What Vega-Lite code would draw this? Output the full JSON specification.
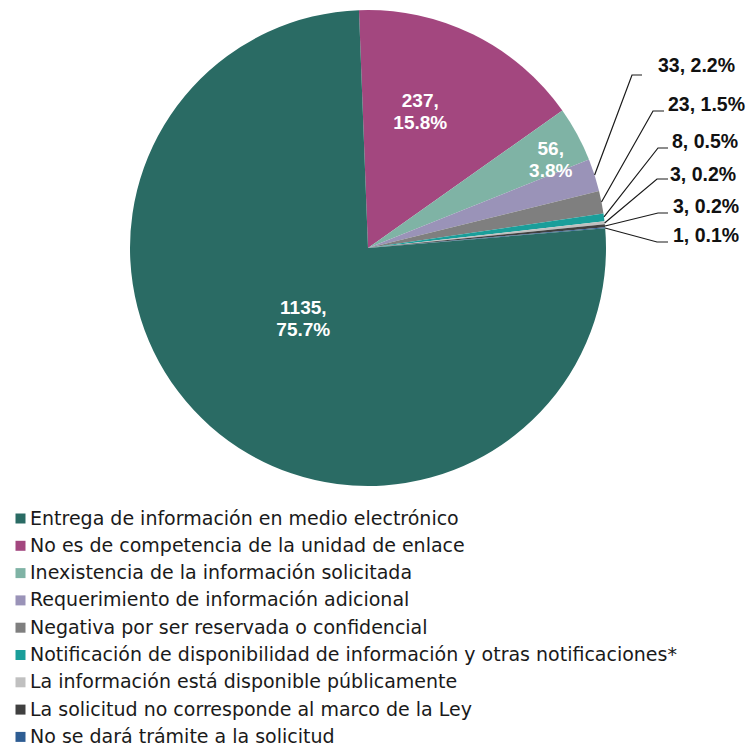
{
  "$schema": "https://vega.github.io/schema/vega-lite/v6.json",
  "width": 749,
  "height": 747,
  "autosize": {"type": "none"},
  "padding": 0,
  "background": "white",
  "config": {"view": {"stroke": null}, "font": "Liberation Sans"},
  "datasets": {
    "slices": [
      {"cat": "No es de competencia de la unidad de enlace", "n": 237, "ord": 1, "lbl": "237,\n15.8%"},
      {"cat": "Inexistencia de la información solicitada", "n": 56, "ord": 2, "lbl": "56,\n3.8%"},
      {"cat": "Requerimiento de información adicional", "n": 33, "ord": 3, "lbl": "33, 2.2%"},
      {"cat": "Negativa por ser reservada o confidencial", "n": 23, "ord": 4, "lbl": "23, 1.5%"},
      {"cat": "Notificación de disponibilidad de información y otras notificaciones*", "n": 8, "ord": 5, "lbl": "8, 0.5%"},
      {"cat": "La información está disponible públicamente", "n": 3, "ord": 6, "lbl": "3, 0.2%"},
      {"cat": "La solicitud no corresponde al marco de la Ley", "n": 3, "ord": 7, "lbl": "3, 0.2%"},
      {"cat": "No se dará trámite a la solicitud", "n": 1, "ord": 8, "lbl": "1, 0.1%"},
      {"cat": "Entrega de información en medio electrónico", "n": 1135, "ord": 9, "lbl": "1135,\n75.7%"}
    ],
    "callouts": [
      {"lbl": "33, 2.2%", "x": 1.2185, "y": 0.7626},
      {"lbl": "23, 1.5%", "x": 1.2605, "y": 0.6008},
      {"lbl": "8, 0.5%", "x": 1.2773, "y": 0.4454},
      {"lbl": "3, 0.2%", "x": 1.2689, "y": 0.3088},
      {"lbl": "3, 0.2%", "x": 1.2815, "y": 0.1723},
      {"lbl": "1, 0.1%", "x": 1.2815, "y": 0.0525}
    ],
    "leaders": [
      {"id": "a", "pt": 1, "x": 0.9521, "y": 0.3067},
      {"id": "a", "pt": 2, "x": 1.1092, "y": 0.7269},
      {"id": "a", "pt": 3, "x": 1.1513, "y": 0.7269},
      {"id": "b", "pt": 1, "x": 0.9811, "y": 0.1933},
      {"id": "b", "pt": 2, "x": 1.1975, "y": 0.5756},
      {"id": "b", "pt": 3, "x": 1.2437, "y": 0.5756},
      {"id": "c", "pt": 1, "x": 0.9916, "y": 0.1303},
      {"id": "c", "pt": 2, "x": 1.2185, "y": 0.4202},
      {"id": "c", "pt": 3, "x": 1.2605, "y": 0.4202},
      {"id": "d", "pt": 1, "x": 0.9941, "y": 0.1050},
      {"id": "d", "pt": 2, "x": 1.2143, "y": 0.2899},
      {"id": "d", "pt": 3, "x": 1.2605, "y": 0.2899},
      {"id": "e", "pt": 1, "x": 0.9958, "y": 0.0924},
      {"id": "e", "pt": 2, "x": 1.2185, "y": 0.1471},
      {"id": "e", "pt": 3, "x": 1.2605, "y": 0.1471},
      {"id": "f", "pt": 1, "x": 0.9958, "y": 0.0840},
      {"id": "f", "pt": 2, "x": 1.2143, "y": 0.0252},
      {"id": "f", "pt": 3, "x": 1.2605, "y": 0.0252}
    ]
  },
  "resolve": {"scale": {"x": "shared", "y": "shared", "theta": "shared"}},
  "layer": [
    {
      "data": {"name": "slices"},
      "mark": {"type": "arc", "outerRadius": 238},
      "encoding": {
        "x": {"datum": 0, "type": "quantitative", "scale": {"domain": [-1.5462, 1.6008], "nice": false, "zero": false}, "axis": null},
        "y": {"datum": 0, "type": "quantitative", "scale": {"domain": [-2.0966, 1.0420], "nice": false, "zero": false}, "axis": null},
        "theta": {"field": "n", "type": "quantitative", "stack": true, "scale": {"range": [-0.038, 6.2452]}},
        "order": {"field": "ord", "type": "quantitative"},
        "color": {
          "field": "cat", "type": "nominal",
          "scale": {
            "domain": [
              "Entrega de información en medio electrónico",
              "No es de competencia de la unidad de enlace",
              "Inexistencia de la información solicitada",
              "Requerimiento de información adicional",
              "Negativa por ser reservada o confidencial",
              "Notificación de disponibilidad de información y otras notificaciones*",
              "La información está disponible públicamente",
              "La solicitud no corresponde al marco de la Ley",
              "No se dará trámite a la solicitud"
            ],
            "range": ["#2a6b64", "#a3477f", "#7fb3a5", "#9a93b8", "#7f7f7f", "#1a9e9a", "#c0c0c0", "#404040", "#2e5d93"]
          },
          "legend": {
            "orient": "none", "legendX": 11, "legendY": 509, "title": null,
            "symbolType": "square", "symbolSize": 100, "symbolStrokeWidth": 0,
            "labelFontSize": 19, "labelFont": "DejaVu Sans", "labelColor": "#1a1a1a",
            "labelOffset": 0, "rowPadding": 7.3, "padding": 0, "labelLimit": 800
          }
        }
      }
    },
    {
      "data": {"name": "slices"},
      "mark": {"type": "text", "radius": 156, "thetaOffset": -0.117, "color": "white", "fontWeight": "bold", "fontSize": 19, "lineBreak": "\n", "lineHeight": 22, "align": "center", "baseline": "middle"},
      "encoding": {
        "x": {"datum": 0, "type": "quantitative"},
        "y": {"datum": 0, "type": "quantitative"},
        "theta": {"field": "n", "type": "quantitative", "stack": true},
        "order": {"field": "ord", "type": "quantitative"},
        "text": {"condition": {"test": "datum.ord === 1", "field": "lbl"}, "value": ""}
      }
    },
    {
      "data": {"name": "slices"},
      "mark": {"type": "text", "radius": 208, "color": "white", "fontWeight": "bold", "fontSize": 19, "lineBreak": "\n", "lineHeight": 22, "align": "center", "baseline": "middle"},
      "encoding": {
        "x": {"datum": 0, "type": "quantitative"},
        "y": {"datum": 0, "type": "quantitative"},
        "theta": {"field": "n", "type": "quantitative", "stack": true},
        "order": {"field": "ord", "type": "quantitative"},
        "text": {"condition": {"test": "datum.ord === 2", "field": "lbl"}, "value": ""}
      }
    },
    {
      "data": {"name": "slices"},
      "mark": {"type": "text", "radius": 88, "thetaOffset": 0.101, "color": "white", "fontWeight": "bold", "fontSize": 19, "lineBreak": "\n", "lineHeight": 22, "align": "center", "baseline": "middle"},
      "encoding": {
        "x": {"datum": 0, "type": "quantitative"},
        "y": {"datum": 0, "type": "quantitative"},
        "theta": {"field": "n", "type": "quantitative", "stack": true},
        "order": {"field": "ord", "type": "quantitative"},
        "text": {"condition": {"test": "datum.ord === 9", "field": "lbl"}, "value": ""}
      }
    },
    {
      "data": {"name": "leaders"},
      "mark": {"type": "line", "color": "#1a1a1a", "strokeWidth": 1.2},
      "encoding": {
        "x": {"field": "x", "type": "quantitative"},
        "y": {"field": "y", "type": "quantitative"},
        "detail": {"field": "id"},
        "order": {"field": "pt", "type": "quantitative"}
      }
    },
    {
      "data": {"name": "callouts"},
      "mark": {"type": "text", "align": "left", "baseline": "middle", "fontWeight": "bold", "fontSize": 19.5, "color": "#111111"},
      "encoding": {
        "x": {"field": "x", "type": "quantitative"},
        "y": {"field": "y", "type": "quantitative"},
        "text": {"field": "lbl"}
      }
    }
  ]
}
